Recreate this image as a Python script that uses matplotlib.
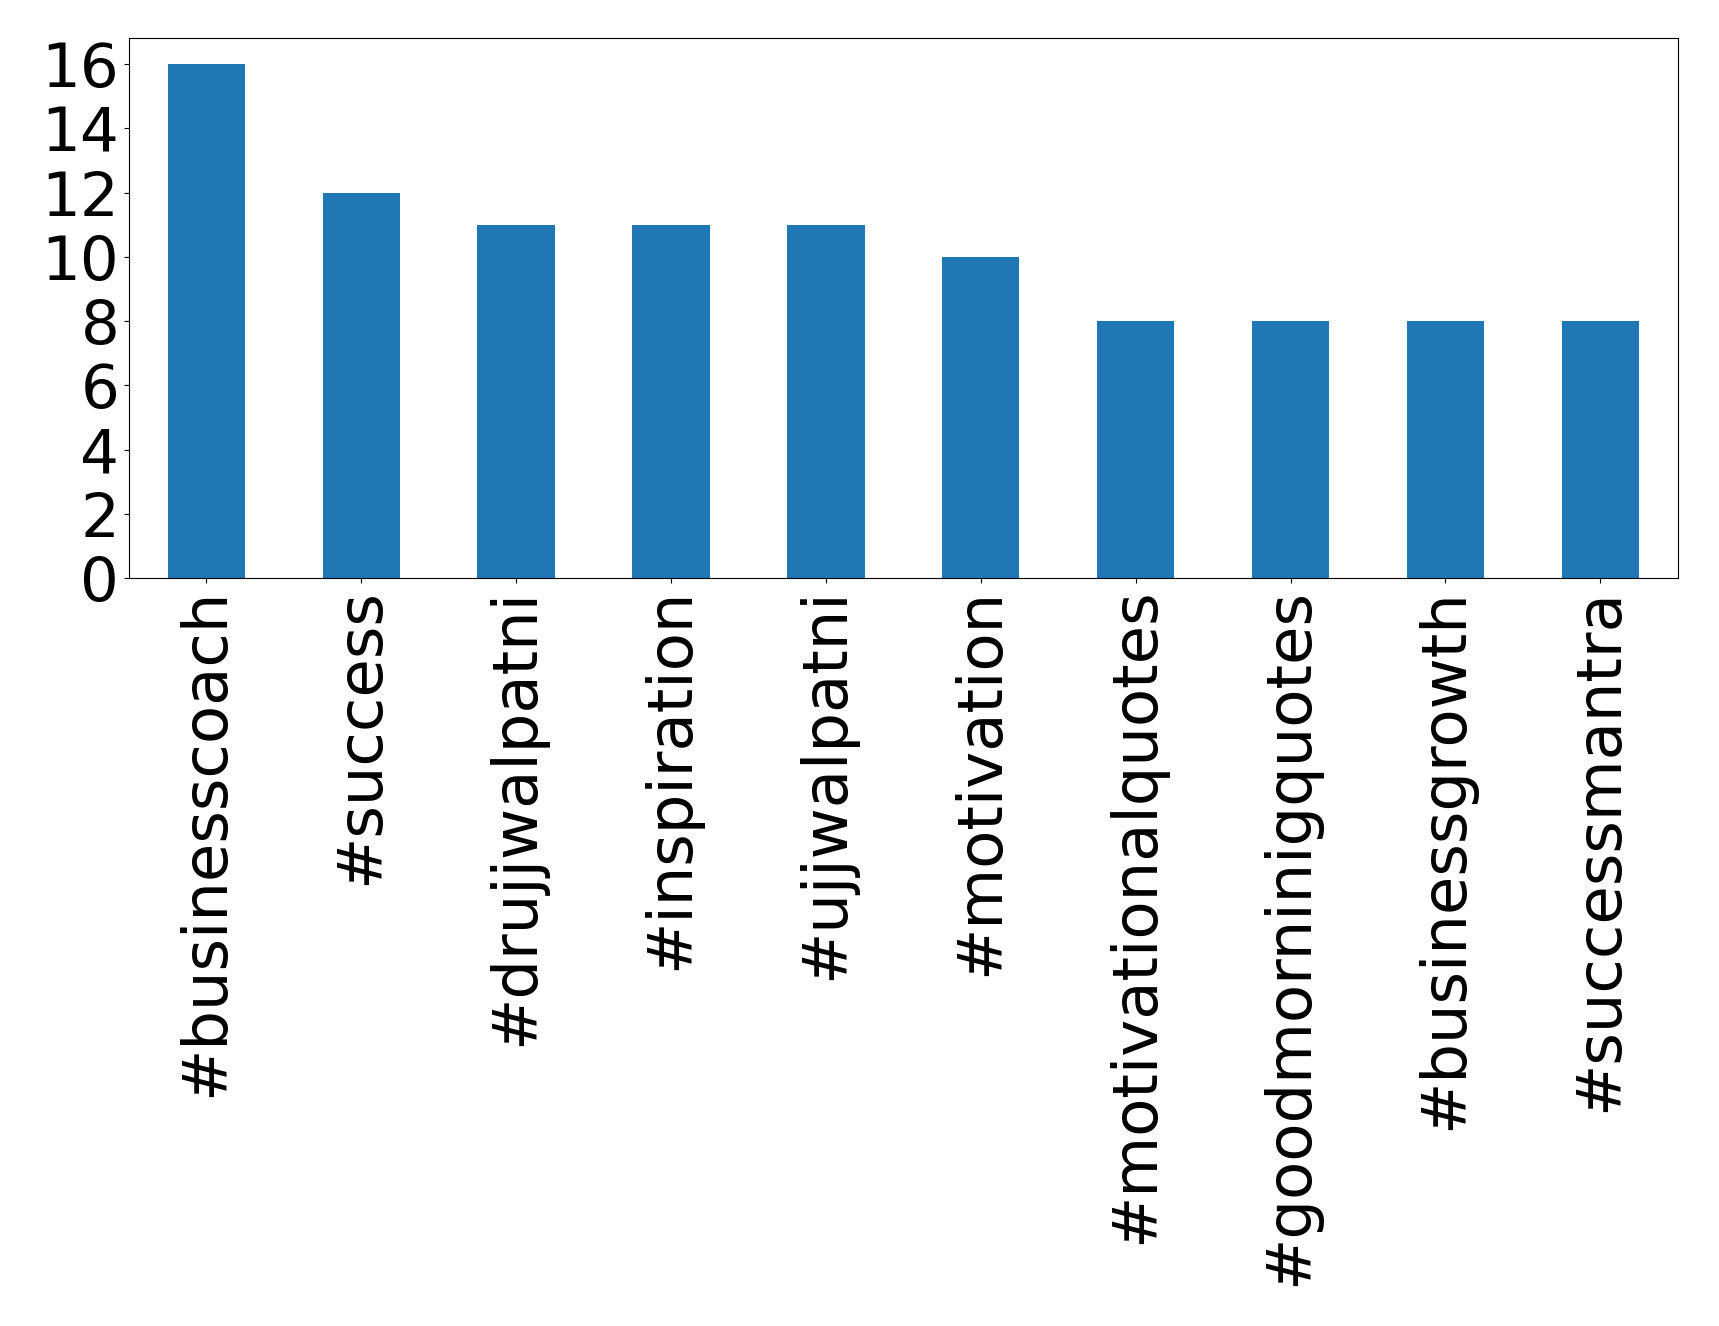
import matplotlib
matplotlib.use("Agg")
import matplotlib.pyplot as plt

tags = ["#businesscoach", "#success", "#drujjwalpatni", "#inspiration", "#ujjwalpatni",
        "#motivation", "#motivationalquotes", "#goodmorninigquotes", "#businessgrowth", "#successmantra"]
counts = [16, 12, 11, 11, 11, 10, 8, 8, 8, 8]

fig = plt.figure(figsize=(17.19, 13.26), dpi=100)
ax = fig.add_axes([0.075, 0.564, 0.901, 0.407])
x = list(range(len(tags)))
ax.bar(x, counts, width=0.5, color="#1f77b4")
ax.set_xlim(-0.5, len(tags) - 0.5)
ax.set_ylim(0, 16.8)
ax.set_yticks(range(0, 17, 2))
ax.set_xticks(x)
ax.set_xticklabels(tags, rotation=90)
ax.tick_params(axis="x", labelsize=45)
ax.tick_params(axis="y", labelsize=44)
fig.savefig("out.png", dpi=100)
